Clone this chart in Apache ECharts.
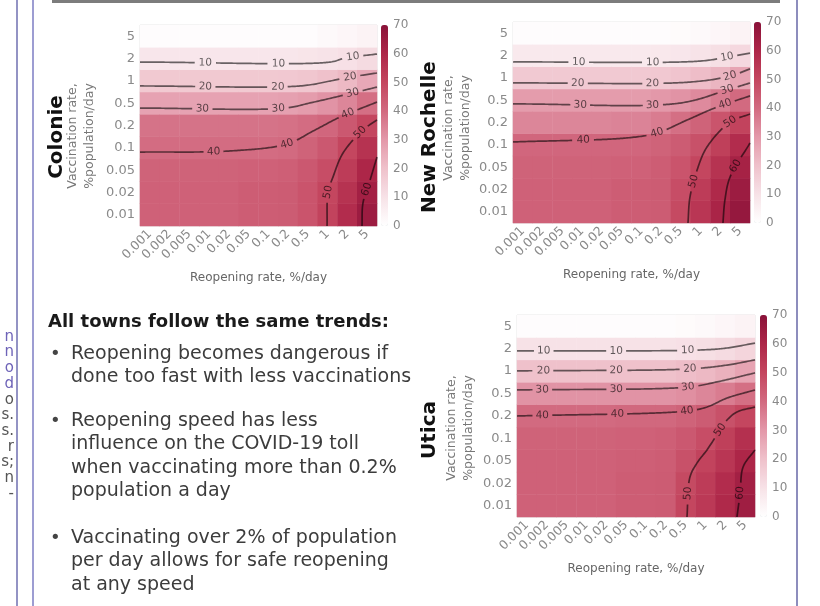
<!DOCTYPE html>
<html><head><meta charset="utf-8">
<script src="https://cdn.jsdelivr.net/npm/echarts@6/dist/echarts.min.js"></script>
<style>html,body{margin:0;padding:0;background:#fff}#c{width:820px;height:606px}</style>
</head><body><div id="c"></div><script>
// ---------- data ----------
const reopeningRates = ['0.001','0.002','0.005','0.01','0.02','0.05','0.1','0.2','0.5','1','2','5'];
const vaccinationRates = ['0.01','0.02','0.05','0.1','0.2','0.5','1','2','5'];
const colorbarMin = 0, colorbarMax = 70, colorbarStep = 10;

// COVID-19 toll per reopening-rate column; each column lists vaccination 0.01 (bottom) ... 5 (top)
const colonieValues = [
  [42.5,42.5,42,39.5,38,27.5,17.7,8.5,1],
  [42.5,42.5,42,39.5,38,27.5,17.7,8.5,1],
  [42.5,42.5,42,39.5,38,27.5,17.7,8.5,1],
  [42.5,42.5,42,39.5,38,27.5,17.7,8.5,1],
  [42.5,42.5,42,39.5,38,27.5,17.7,8.5,1],
  [43.5,43.5,42.5,39.5,38,27.5,17.7,8.5,1],
  [43.5,43.5,42.5,39.5,38,27.5,17.7,8.5,1],
  [44,44,43,40,38.5,28,18,8.5,1],
  [46,46,45,42,39.5,29,18.5,9,1],
  [51,50,48,45,41,31,20,9.5,2],
  [58,56,53,50,45,34,22,10.5,3],
  [65,63,60,56,50,39,26,12,4]
];
const newRochelleValues = [
  [42.5,42.5,42,41,34,29,17.5,7.5,1],
  [42.5,42.5,42,41,34,29,17.5,7.5,1],
  [42.5,42.5,42,41,34,29,17.5,7.5,1],
  [42.5,42.5,42,41,34,29,17.5,7.5,1],
  [42.5,42.5,42,41,34,29,17.5,7.5,1],
  [43.5,43.5,42.5,41,34.5,29,17.5,7.5,1],
  [43.5,43.5,42.5,41,34.5,29,17.5,7.5,1],
  [44,44,43.5,42,36,30,18,8,1],
  [49,48,46,44,39,31,19,8.5,1.5],
  [55,53,50,47,42,33,21,9.5,2],
  [61,59,56,52,46,36,23,11,3],
  [67,65,62,58,51,40,27,13,4]
];
const uticaValues = [
  [42.5,42.5,42.5,42,40,31,20,10,1],
  [42.5,42.5,42.5,42,40,31,20,10,1],
  [42.5,42.5,42.5,42,40,31,20,10,1],
  [42.5,42.5,42.5,42,40,31,20,10,1],
  [42.5,42.5,42.5,42,40,31,20,10,1],
  [43.5,43.5,43,42.5,40.5,31,20,10,1],
  [43.5,43.5,43,42.5,40.5,31,20,10,1],
  [44,44,43.5,43,40.5,31,20,10,1],
  [50,49,47,45,42,32,21,10.5,1.5],
  [54,53,51,48,44,34,22,11,2],
  [59,58,55,52,47,36,24,12,3],
  [64,63,60,57,50,39,27,14,4]
];

// contour lines: [level, path points (column index, row index), label anchor points]
const colonieContours = [
  [10, [[-0.5,6.84],[9.12,6.84],[9.88,7.02],[11.5,7.2]], [[2.79,6.84],[6.49,6.84],[10.28,7.1]]],
  [20, [[-0.5,5.77],[7.6,5.77],[9.12,5.99],[9.88,6.13],[11.5,6.35]], [[2.79,5.77],[6.49,5.77],[10.13,6.17]]],
  [30, [[-0.5,4.78],[6.84,4.78],[8.11,5.01],[9.63,5.32],[11.5,5.72]], [[2.69,4.78],[6.49,4.78],[10.23,5.45]]],
  [40, [[-0.5,2.81],[4.06,2.86],[6.94,3.17],[8.26,3.75],[9.63,4.38],[11.5,5.05]], [[3.2,2.84],[6.94,3.17],[10.03,4.55]]],
  [50, [[11.5,4.25],[10.79,3.8],[9.78,2.77],[9.27,1.69],[9.02,1.02],[8.97,-0.5]], [[10.54,3.8],[9.02,1.02]]],
  [60, [[11.5,2.59],[11.15,1.56],[10.79,0.53],[10.74,-0.5]], [[11.04,1.11]]]
];
const newRochelleContours = [
  [10, [[-0.5,6.71],[8.97,6.75],[10.34,6.93],[11.5,7.11]], [[2.79,6.72],[6.54,6.73],[10.34,6.93]]],
  [20, [[-0.5,5.77],[8.46,5.81],[10.49,6.08],[11.5,6.40]], [[2.79,5.78],[6.54,5.79],[10.49,6.08]]],
  [30, [[-0.5,4.83],[7.96,4.87],[10.34,5.46],[11.5,5.77]], [[2.89,4.84],[6.59,4.86],[10.34,5.46]]],
  [40, [[-0.5,3.13],[5.27,3.31],[6.79,3.53],[8.31,4.11],[9.83,4.69],[11.5,5.19]], [[3.04,3.2],[6.79,3.53],[10.23,4.8]]],
  [50, [[11.5,4.38],[10.49,4.02],[9.32,2.90],[8.82,1.87],[8.46,0.66],[8.36,-0.5]], [[10.49,4.02],[8.66,1.34]]],
  [60, [[11.5,3.08],[10.49,1.56],[10.23,0.53],[10.13,-0.5]], [[10.79,2.01]]]
];
const uticaContours = [
  [10, [[-0.5,6.90],[8.73,6.94],[10.09,7.03],[11.5,7.25]], [[0.81,6.9],[4.54,6.9],[8.12,6.93]]],
  [20, [[-0.5,6.01],[8.22,6.10],[10.09,6.27],[11.5,6.50]], [[0.81,6.02],[4.54,6.05],[8.22,6.10]]],
  [30, [[-0.5,5.16],[8.12,5.29],[9.59,5.52],[11.5,5.92]], [[0.81,5.17],[4.54,5.22],[8.12,5.29]]],
  [40, [[-0.5,4.0],[8.07,4.22],[9.08,4.40],[10.09,4.80],[11.5,5.16]], [[0.81,4.02],[4.54,4.1],[8.07,4.22]]],
  [50, [[11.5,4.40],[10.59,4.18],[10.09,3.82],[9.74,3.38],[9.08,2.49],[8.58,1.91],[8.22,1.28],[8.07,-0.5]], [[9.74,3.38],[8.12,0.57]]],
  [60, [[11.5,2.49],[10.9,1.73],[10.75,0.57],[10.59,-0.5]], [[10.75,0.57]]]
];

const townNames = ['Colonie','New Rochelle','Utica'];
const yTitle = 'Vaccination rate,\n%population/day';
const xTitle = 'Reopening rate, %/day';
const headline = 'All towns follow the same trends:';
const bulletLines = [
  ['Reopening becomes dangerous if','done too fast with less vaccinations'],
  ['Reopening speed has less','influence on the COVID-19 toll','when vaccinating more than 0.2%','population a day'],
  ['Vaccinating over 2% of population','per day allows for safe reopening','at any speed']
];
const sideFragments = ['n','n','o','d','o','s.','s.','r','s;','n','-'];

// ---------- layout / style ----------
const FONT = "'DejaVu Sans', sans-serif";
const palette = ['#ffffff','#f7e2e7','#efc1cb','#e398a9','#d26a80','#c4465f','#ad2648','#8a1239'];
const layouts = [
  {grid:{left:140, top:25, width:237, height:201}, cbLeft:381, nameXY:[57,137], ytXY:[81,136]},
  {grid:{left:513, top:22, width:237, height:201}, cbLeft:754, nameXY:[430,137], ytXY:[457,128]},
  {grid:{left:517, top:315, width:238, height:202}, cbLeft:760, nameXY:[430,430], ytXY:[460,428]}
];
const valuesList = [colonieValues, newRochelleValues, uticaValues];
const contourList = [colonieContours, newRochelleContours, uticaContours];

function toCells(cols){
  const out = [];
  cols.forEach((col, xi) => col.forEach((v, yi) => out.push([xi, yi, v])));
  return out;
}

function spline(P){
  const n = P.length;
  const ext = [[2*P[0][0]-P[1][0], 2*P[0][1]-P[1][1]], ...P,
               [2*P[n-1][0]-P[n-2][0], 2*P[n-1][1]-P[n-2][1]]];
  const out = [P[0]];
  const d = (a,b) => Math.max(1e-4, Math.pow(Math.hypot(b[0]-a[0], b[1]-a[1]), 0.5));
  for (let i = 1; i < ext.length - 2; i++){
    const p0=ext[i-1], p1=ext[i], p2=ext[i+1], p3=ext[i+2];
    const t0=0, t1=t0+d(p0,p1), t2=t1+d(p1,p2), t3=t2+d(p2,p3);
    const steps = Math.max(2, Math.ceil(Math.hypot(p2[0]-p1[0], p2[1]-p1[1]) / 1.5));
    for (let k = 1; k <= steps; k++){
      const t = t1 + (t2-t1)*k/steps;
      const L = (a,b,ta,tb) => [(tb-t)/(tb-ta)*a[0]+(t-ta)/(tb-ta)*b[0], (tb-t)/(tb-ta)*a[1]+(t-ta)/(tb-ta)*b[1]];
      const A1=L(p0,p1,t0,t1), A2=L(p1,p2,t1,t2), A3=L(p2,p3,t2,t3);
      const B1=L(A1,A2,t0,t2), B2=L(A2,A3,t1,t3);
      out.push(L(B1,B2,t1,t2));
    }
  }
  return out;
}

function contourSeries(contours, axisIdx){
  return {
    type:'custom', coordinateSystem:'cartesian2d', xAxisIndex:axisIdx, yAxisIndex:axisIdx,
    silent:true, z:5, clip:false,
    data: contours.map((c,i) => [c[1][0][0], c[1][0][1], i]),
    encode:{x:0, y:1},
    renderItem(params, api){
      const c = contours[api.value(2)];
      const level = c[0];
      const pts = spline(c[1].map(p => api.coord(p)));
      const cum = [0];
      for (let i = 1; i < pts.length; i++) cum.push(cum[i-1] + Math.hypot(pts[i][0]-pts[i-1][0], pts[i][1]-pts[i-1][1]));
      const gaps = [], children = [];
      const half = String(level).length * 0.636 * 10.5 / 2 + 3;
      c[2].forEach(lp => {
        const q = api.coord(lp);
        let best = 0, bd = Infinity;
        pts.forEach((p,i) => { const dd=(p[0]-q[0])**2+(p[1]-q[1])**2; if (dd<bd){bd=dd;best=i;} });
        gaps.push([cum[best]-half, cum[best]+half]);
        const a = pts[Math.max(0,best-4)], b = pts[Math.min(pts.length-1,best+4)];
        let ang = Math.atan2(-(b[1]-a[1]), b[0]-a[0]);
        if (ang > Math.PI/2) ang -= Math.PI;
        if (ang < -Math.PI/2) ang += Math.PI;
        children.push({type:'text', x:pts[best][0], y:pts[best][1], rotation:ang,
          style:{text:String(level), x:0, y:0, fill:'rgba(0,0,0,0.62)', font:'10.5px '+FONT,
                 align:'center', verticalAlign:'middle', textAlign:'center', textVerticalAlign:'middle'}});
      });
      const segs = []; let cur = [];
      for (let i = 0; i < pts.length; i++){
        const inGap = gaps.some(g => cum[i] > g[0] && cum[i] < g[1]);
        if (inGap){ if (cur.length > 1) segs.push(cur); cur = []; } else cur.push(pts[i]);
      }
      if (cur.length > 1) segs.push(cur);
      segs.forEach(s => children.unshift({type:'polyline', shape:{points:s},
        style:{stroke:'rgba(0,0,0,0.58)', lineWidth:1.7, fill:'none'}}));
      return {type:'group', children};
    }
  };
}

const grids = [], xAxes = [], yAxes = [], series = [], visualMaps = [];
layouts.forEach((L,i) => grids.push(Object.assign({show:true, borderColor:'#e2e2e2', borderWidth:1, containLabel:false}, L.grid)));
layouts.forEach((L,i) => grids.push({left:L.cbLeft, top:L.grid.top, width:7, height:L.grid.height}));

layouts.forEach((L,i) => {
  xAxes.push({type:'category', gridIndex:i, data:reopeningRates,
    axisLine:{show:false}, axisTick:{show:false}, splitLine:{show:false},
    axisLabel:{rotate:45, margin:6, color:'#8a8a8a', fontSize:12.5, fontFamily:FONT, interval:0},
    name:xTitle, nameLocation:'middle', nameGap:46,
    nameTextStyle:{color:'#666', fontSize:12, fontFamily:FONT}});
  yAxes.push({type:'category', gridIndex:i, data:vaccinationRates,
    axisLine:{show:false}, axisTick:{show:false}, splitLine:{show:false},
    axisLabel:{margin:5, color:'#8a8a8a', fontSize:13, fontFamily:FONT, interval:0}});
});
layouts.forEach((L,i) => {
  xAxes.push({type:'value', gridIndex:i, min:-0.5, max:11.5, show:false});
  yAxes.push({type:'value', gridIndex:i, min:-0.5, max:8.5, show:false});
});
layouts.forEach((L,i) => {
  xAxes.push({type:'value', gridIndex:3+i, min:0, max:1, show:false});
  yAxes.push({type:'value', gridIndex:3+i, min:colorbarMin, max:colorbarMax, interval:colorbarStep,
    position:'right', axisLine:{show:false}, axisTick:{show:false}, splitLine:{show:false},
    axisLabel:{margin:5, color:'#8a8a8a', fontSize:12, fontFamily:FONT}});
});

valuesList.forEach((vals,i) => {
  series.push({type:'heatmap', xAxisIndex:i, yAxisIndex:i, data:toCells(vals),
    itemStyle:{borderWidth:0}, emphasis:{disabled:true}, silent:true, progressive:0});
});
contourList.forEach((c,i) => series.push(contourSeries(c, 3+i)));
layouts.forEach((L,i) => visualMaps.push({type:'continuous', min:colorbarMin, max:colorbarMax, seriesIndex:i,
  calculable:false, show:true, orient:'vertical', itemWidth:7, itemHeight:L.grid.height,
  left:L.cbLeft, top:L.grid.top, padding:0, hoverLink:false, inRange:{color:palette}}));

// ---------- text / decoration ----------
const graphic = [];
graphic.push({type:'rect', shape:{x:52, y:0, width:728, height:3}, style:{fill:'#7c7c7c'}});
graphic.push({type:'rect', shape:{x:16, y:0, width:2, height:606}, style:{fill:'#9393c4'}});
graphic.push({type:'rect', shape:{x:32, y:0, width:2, height:606}, style:{fill:'#9d9dd2'}});
graphic.push({type:'rect', shape:{x:796, y:0, width:2, height:606}, style:{fill:'#8d8dbd'}});
const fragY = [337,352,368,384,400,415,431,447,462,478,494];
sideFragments.forEach((t,i) => graphic.push({type:'text', x:14, y:fragY[i],
  style:{text:t, font:'15px '+FONT, fill: i<4 ? '#6e63b8' : '#555', align:'right', verticalAlign:'middle', textAlign:'right', textVerticalAlign:'middle'}}));
layouts.forEach((L,i) => {
  graphic.push({type:'text', x:L.nameXY[0], y:L.nameXY[1], rotation:Math.PI/2,
    style:{text:townNames[i], font:'bold 20px '+FONT, fill:'#111', align:'center', verticalAlign:'middle', textAlign:'center', textVerticalAlign:'middle'}});
  graphic.push({type:'text', x:L.ytXY[0], y:L.ytXY[1], rotation:Math.PI/2,
    style:{text:yTitle, font:'12.5px '+FONT, lineHeight:17, fill:'#777', align:'center', verticalAlign:'middle', textAlign:'center', textVerticalAlign:'middle'}});
});
graphic.push({type:'text', x:48, y:322, style:{text:headline, font:'bold 18px '+FONT, fill:'#1a1a1a', align:'left', verticalAlign:'middle', textAlign:'left', textVerticalAlign:'middle'}});
const bulletTop = [354, 421, 538];
bulletLines.forEach((lines,b) => {
  graphic.push({type:'text', x:50, y:bulletTop[b], style:{text:'•', font:'18px '+FONT, fill:'#444', align:'left', verticalAlign:'middle', textAlign:'left', textVerticalAlign:'middle'}});
  lines.forEach((t,k) => graphic.push({type:'text', x:71, y:bulletTop[b]+k*23.5,
    style:{text:t, font:'19px '+FONT, fill:'#3c3c3c', align:'left', verticalAlign:'middle', textAlign:'left', textVerticalAlign:'middle'}}));
});

const chart = echarts.init(document.getElementById('c'));
chart.setOption({
  animation:false, backgroundColor:'#fff',
  grid:grids, xAxis:xAxes, yAxis:yAxes, visualMap:visualMaps, series, graphic
});
</script></body></html>
